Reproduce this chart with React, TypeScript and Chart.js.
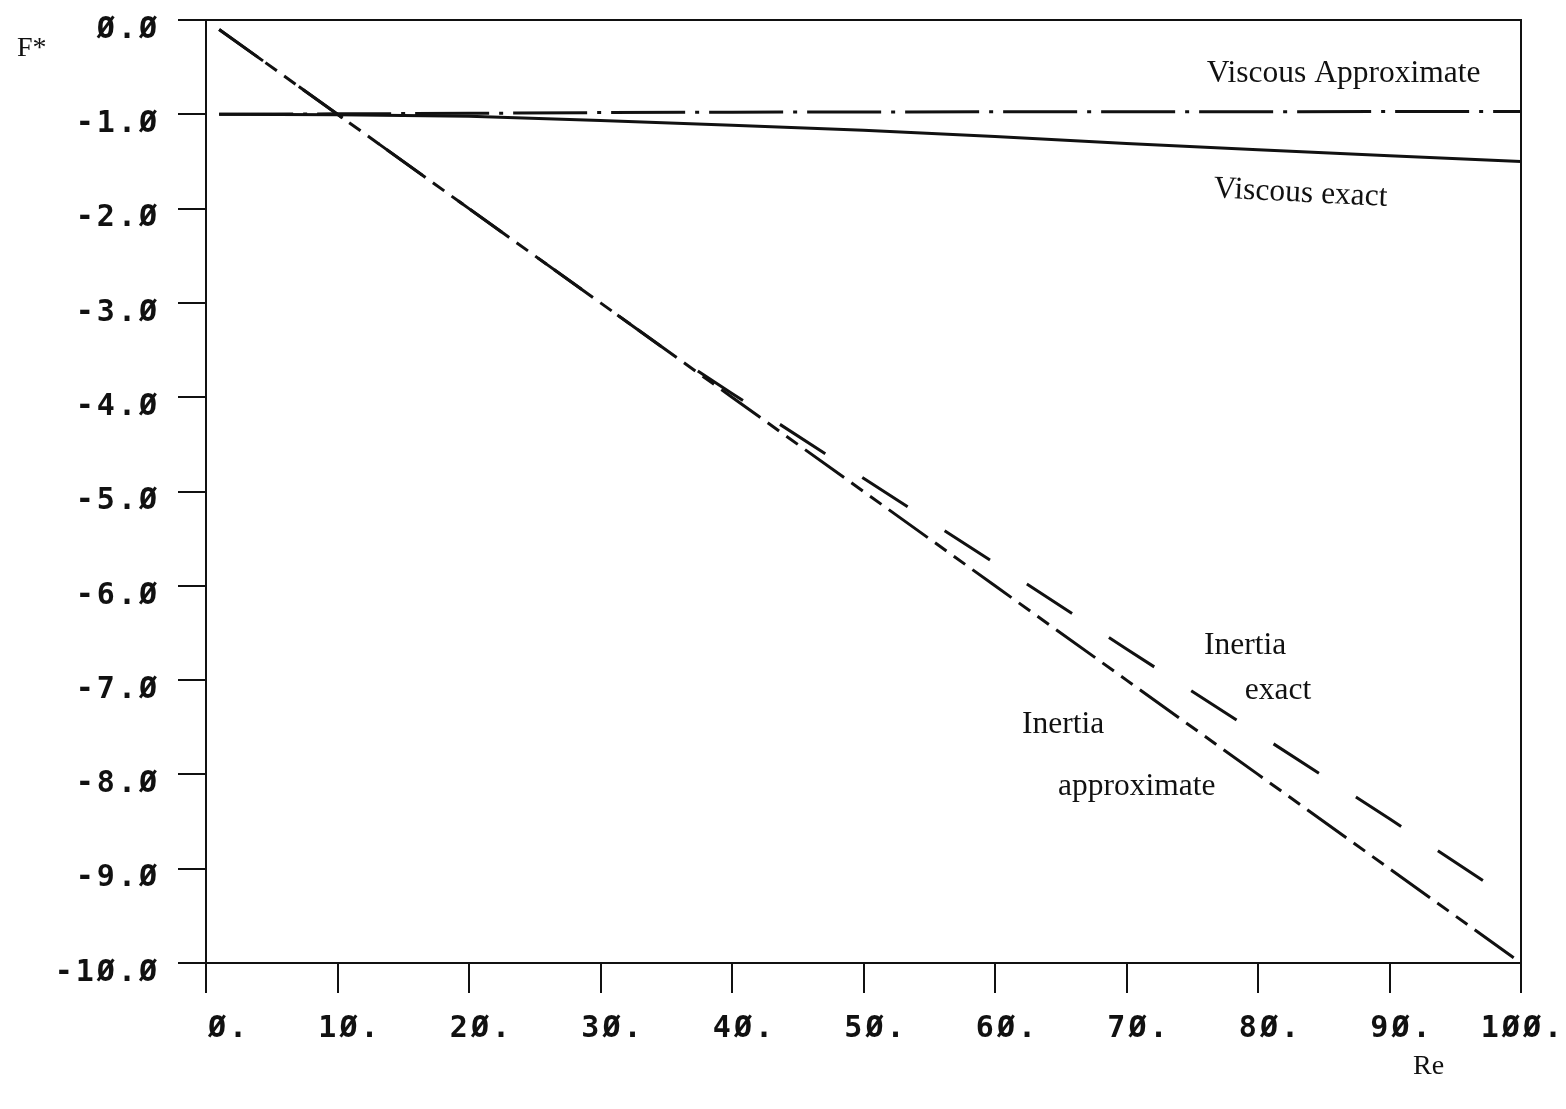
import React, { useEffect, useRef } from "react";
import { Chart, registerables } from "chart.js";

Chart.register(...registerables);

// Reynolds number sample points and dimensionless force F* for each curve
const reViscous = [1, 10, 20, 30, 40, 50, 60, 70, 80, 90, 100];
const fViscousApprox = [-1.0, -0.995, -0.99, -0.982, -0.978, -0.975, -0.974, -0.973, -0.972, -0.971, -0.97];
const fViscousExact = [-1.0, -1.005, -1.02, -1.065, -1.115, -1.17, -1.235, -1.31, -1.375, -1.44, -1.5];

const reInertiaApprox = [1, 10, 20, 30, 40, 50, 60, 70, 80, 90, 100];
const fInertiaApprox = [-0.1, -1.0, -2.0, -3.0, -4.0, -5.0, -6.0, -7.0, -8.0, -9.0, -10.0];

const reInertiaExact = [1, 10, 20, 30, 35, 40, 50, 60, 70, 80, 90, 97.8];
const fInertiaExact = [-0.1, -1.0, -2.0, -3.0, -3.5, -3.96, -4.86, -5.76, -6.67, -7.57, -8.47, -9.19];

// Axis ranges and tick spacing
const reRange = [0, 100];
const fRange = [-10, 0];
const reStep = 10;
const fStep = 1;

const toPoints = (xs: number[], ys: number[]) => xs.map((x, i) => ({ x, y: ys[i] }));

// Plotter-style numerals with slashed zeros
const slashZero = (s: string) => s.replace(/0/g, "\u00D8");

const SERIF = "'Liberation Serif', 'Times New Roman', serif";
const MONO = "'DejaVu Sans Mono', monospace";

// Curve captions placed in data coordinates (Re, F*)
const captions = [
  { text: "Viscous Approximate", re: 76.1, f: -0.66, rot: 0 },
  { text: "Viscous exact", re: 76.6, f: -1.88, rot: 0.05 },
  { text: "Inertia", re: 75.9, f: -6.72, rot: 0 },
  { text: "exact", re: 79.0, f: -7.2, rot: 0 },
  { text: "Inertia", re: 62.05, f: -7.56, rot: 0 },
  { text: "approximate", re: 64.8, f: -8.22, rot: 0 },
];

const framePlugin = {
  id: "frame",
  beforeDraw(chart: any) {
    // wider character pitch for the tick numerals
    chart.ctx.letterSpacing = "3px";
  },
  afterDraw(chart: any) {
    const { ctx, chartArea, scales } = chart;
    ctx.save();
    ctx.letterSpacing = "0px";
    ctx.strokeStyle = "#111";
    ctx.lineWidth = 2;
    ctx.beginPath();
    ctx.moveTo(chartArea.left, chartArea.top);
    ctx.lineTo(chartArea.right, chartArea.top);
    ctx.lineTo(chartArea.right, chartArea.bottom);
    ctx.stroke();

    ctx.fillStyle = "#111";
    ctx.textBaseline = "alphabetic";
    ctx.textAlign = "left";
    ctx.font = `31.5px ${SERIF}`;
    for (const c of captions) {
      const px = scales.x.getPixelForValue(c.re);
      const py = scales.y.getPixelForValue(c.f);
      ctx.save();
      ctx.translate(px, py);
      ctx.rotate(c.rot);
      ctx.fillText(c.text, 0, 0);
      ctx.restore();
    }
    // axis names
    ctx.font = `28px ${SERIF}`;
    ctx.fillText("F*", 17, 56);
    ctx.fillText("Re", 1413, 1074);
    ctx.restore();
  },
};

export default function App() {
  const ref = useRef<HTMLCanvasElement>(null);

  useEffect(() => {
    if (!ref.current) return;
    const line = (data: any, dash: number[], width = 3) => ({
      data,
      borderColor: "#111",
      borderWidth: width,
      borderDash: dash,
      pointRadius: 0,
      tension: 0,
      fill: false,
    });
    const chart = new Chart(ref.current, {
      type: "line",
      data: {
        datasets: [
          { label: "Viscous Approximate", ...line(toPoints(reViscous, fViscousApprox), [74, 10, 4, 10], 3) },
          { label: "Viscous exact", ...line(toPoints(reViscous, fViscousExact), [], 3) },
          { label: "Inertia exact", ...line(toPoints(reInertiaExact, fInertiaExact), [54, 44], 3) },
          { label: "Inertia approximate", ...line(toPoints(reInertiaApprox, fInertiaApprox), [48, 9, 14, 9, 14, 9], 3) },
        ],
      },
      options: {
        animation: false,
        responsive: false,
        events: [],
        layout: { padding: { top: 20, right: 45, left: 0, bottom: 0 } },
        plugins: { legend: { display: false }, tooltip: { enabled: false } },
        scales: {
          x: {
            type: "linear",
            min: reRange[0],
            max: reRange[1],
            afterFit: (s: any) => {
              s.height = 146;
              s.paddingLeft = 0;
              s.paddingRight = 0;
            },
            border: { display: true, color: "#111", width: 2 },
            grid: { display: true, drawOnChartArea: false, drawTicks: true, tickLength: 30, color: "#111", lineWidth: 2 },
            ticks: {
              stepSize: reStep,
              align: "end",
              labelOffset: 44,
              padding: 18,
              color: "#111",
              font: { family: MONO, size: 30, weight: "bold" },
              maxRotation: 0,
              autoSkip: false,
              callback: (v: any) => slashZero(`${Number(v).toFixed(0)}.`),
            },
          },
          y: {
            type: "linear",
            min: fRange[0],
            max: fRange[1],
            afterFit: (s: any) => {
              s.width = 206;
              s.paddingTop = 0;
              s.paddingBottom = 0;
            },
            border: { display: true, color: "#111", width: 2 },
            grid: { display: true, drawOnChartArea: false, drawTicks: true, tickLength: 28, color: "#111", lineWidth: 2 },
            ticks: {
              stepSize: fStep,
              labelOffset: 10,
              padding: 18,
              color: "#111",
              font: { family: MONO, size: 30, weight: "bold" },
              autoSkip: false,
              callback: (v: any) => slashZero(Number(v).toFixed(1)),
            },
          },
        },
      },
      plugins: [framePlugin],
    });
    return () => chart.destroy();
  }, []);

  return (
    <div style={{ position: "absolute", left: 0, top: 0, width: 1566, height: 1109, background: "#fff" }}>
      <canvas ref={ref} width={1566} height={1109} style={{ display: "block" }} />
    </div>
  );
}
